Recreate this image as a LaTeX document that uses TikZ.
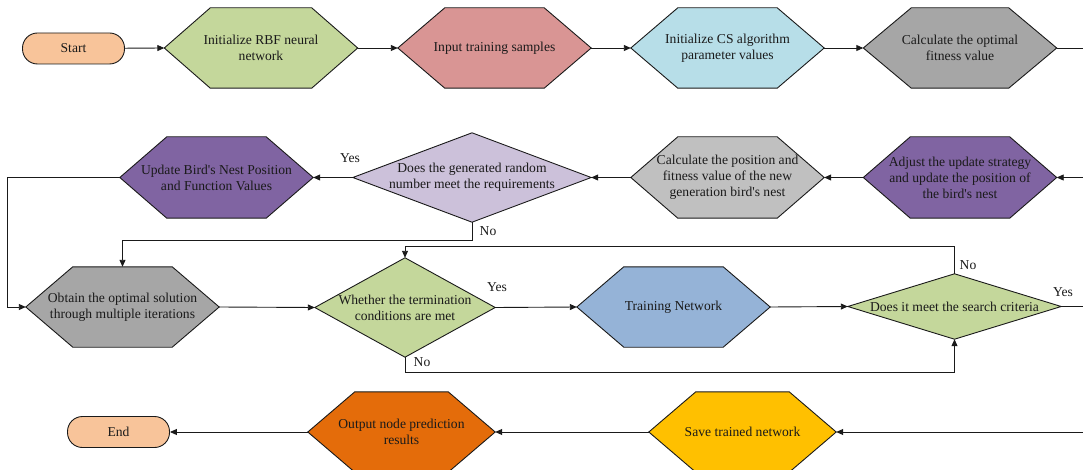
\documentclass[tikz,border=0pt]{standalone}
\usepackage{fontspec}
\setmainfont{Liberation Serif}
\usetikzlibrary{arrows.meta,backgrounds}

% fill colours of the flow chart
\definecolor{cTerm}{HTML}{F8C49A}
\definecolor{cGreen}{HTML}{C4D79B}
\definecolor{cRose}{HTML}{D99594}
\definecolor{cSky}{HTML}{B7DEE8}
\definecolor{cGrey}{HTML}{A6A6A6}
\definecolor{cSilver}{HTML}{C0C0C0}
\definecolor{cPurple}{HTML}{8064A2}
\definecolor{cLilac}{HTML}{CCC1DA}
\definecolor{cSteel}{HTML}{95B3D7}
\definecolor{cOrange}{HTML}{E46C0A}
\definecolor{cAmber}{HTML}{FFC000}
\definecolor{cInk}{HTML}{1A1A1A}

% straight apostrophe
\newcommand\apos{\textquotesingle}

% outline of a hexagon or a diamond drawn around a named node
\newcommand\drawhex[3]{%
  \filldraw[shapeline, fill=#3] (#1.west) -- ([xshift=#2pt]#1.north west)
    -- ([xshift=-#2pt]#1.north east) -- (#1.east)
    -- ([xshift=-#2pt]#1.south east) -- ([xshift=#2pt]#1.south west) -- cycle;}
\newcommand\drawdiam[2]{%
  \filldraw[shapeline, fill=#2] (#1.west) -- (#1.north) -- (#1.east)
    -- (#1.south) -- cycle;}

\begin{document}
\begin{tikzpicture}[x=1pt, y=-1pt,
  txt/.style={font=\fontsize{13.6}{16}\selectfont, text=cInk},
  box/.style={txt, shape=rectangle, inner sep=0pt, align=center},
  hexbox/.style={box, minimum width=193pt, minimum height=80pt},
  lowhex/.style={box, minimum width=187pt, minimum height=80pt},
  term/.style={box, draw=cInk, line width=0.9pt, fill=cTerm,
    rounded corners=15pt, minimum width=102pt, minimum height=31pt},
  shapeline/.style={draw=cInk, line width=0.9pt},
  link/.style={draw=cInk, line width=0.9pt},
  arr/.style={link, -{Triangle[length=7pt,width=6pt]}},
  lbl/.style={txt}
]
\useasboundingbox (0,0) rectangle (1083,470);

% first row
\node[term] (start) at (73.5,48.5) {Start};
\node[hexbox] (rbf) at (261,48) {Initialize RBF neural\\network};
\node[hexbox] (input) at (494.5,48) {Input training samples};
\node[hexbox] (cs) at (727.5,48) {Initialize CS algorithm\\parameter values};
\node[hexbox] (fit) at (960,48) {Calculate the optimal\\fitness value};

% second row
\node[hexbox, minimum height=81pt] (adjust) at (960,177.5) {Adjust the update strategy\\and update the position of\\the bird\apos s nest};
\node[hexbox, minimum height=81pt] (newpos) at (727.5,177.5) {Calculate the position and\\fitness value of the new\\generation bird\apos s nest};
\node[box, minimum width=238pt, minimum height=89pt] (rand) at (472,177.5) {Does the generated random\\number meet the requirements};
\node[hexbox, minimum height=81pt] (update) at (216.5,177.5) {Update Bird\apos s Nest Position\\and Function Values};

% third row
\node[hexbox] (optim) at (122.5,307) {Obtain the optimal solution\\through multiple iterations};
\node[box, minimum width=180pt, minimum height=99pt] (term) at (405,307.5) {Whether the termination\\conditions are met};
\node[hexbox] (train) at (673.5,307) {Training Network};
\node[box, minimum width=213pt, minimum height=65pt] (crit) at (954.5,306.5) {Does it meet the search criteria};

% fourth row
\node[term] (end) at (118.5,432) {End};
\node[lowhex] (output) at (401.5,432) {Output node prediction\\results};
\node[lowhex] (save) at (742.5,432) {Save trained network};

% shapes behind the texts
\begin{pgfonlayer}{background}
  \drawhex{rbf}{46}{cGreen}
  \drawhex{input}{47}{cRose}
  \drawhex{cs}{47}{cSky}
  \drawhex{fit}{48}{cGrey}
  \drawhex{adjust}{47}{cPurple}
  \drawhex{newpos}{47}{cSilver}
  \drawdiam{rand}{cLilac}
  \drawhex{update}{47}{cPurple}
  \drawhex{optim}{47}{cGrey}
  \drawdiam{term}{cGreen}
  \drawhex{train}{47}{cSteel}
  \drawdiam{crit}{cGreen}
  \drawhex{output}{47}{cOrange}
  \drawhex{save}{47}{cAmber}
\end{pgfonlayer}

% free ends at the right border
\coordinate (out1) at (1083,48);
\coordinate (in2) at (1083,177.5);
\coordinate (out3) at (1083,306.5);
\coordinate (in4) at (1083,432);

% connectors
\draw[arr] (start) -- (rbf.west);
\draw[arr] (rbf.east) -- (input.west);
\draw[arr] (input.east) -- (cs.west);
\draw[arr] (cs.east) -- (fit.west);
\draw[link] (fit.east) -- (out1);

\draw[arr] (in2) -- (adjust.east);
\draw[arr] (adjust.west) -- (newpos.east);
\draw[arr] (newpos.west) -- (rand.east);
\draw[arr] (rand.west) -- (update.east);
\draw[arr] (update.west) -- ++(-112,0) |- (optim.west);
\draw[arr] (rand.south) -- ++(0,18) -| (optim.north);

\draw[arr] (optim.east) -- (term.west);
\draw[arr] (term.east) -- (train.west);
\draw[arr] (train.east) -- (crit.west);
\draw[arr] (crit.north) -- ++(0,-27) -| (term.north);
\draw[arr] (term.south) -- ++(0,15) -| (crit.south);
\draw[link] (crit.east) -- (out3);

\draw[arr] (in4) -- (save.east);
\draw[arr] (save.west) -- (output.east);
\draw[arr] (output.west) -- (end.east);

% branch labels
\node[lbl] (yesA) at (350,158) {Yes};
\node[lbl] (noA) at (488,231) {No};
\node[lbl] (yesB) at (497,287) {Yes};
\node[lbl] (noB) at (968,265) {No};
\node[lbl] (yesC) at (1063,292) {Yes};
\node[lbl] (noC) at (422,362) {No};
\end{tikzpicture}
\end{document}
